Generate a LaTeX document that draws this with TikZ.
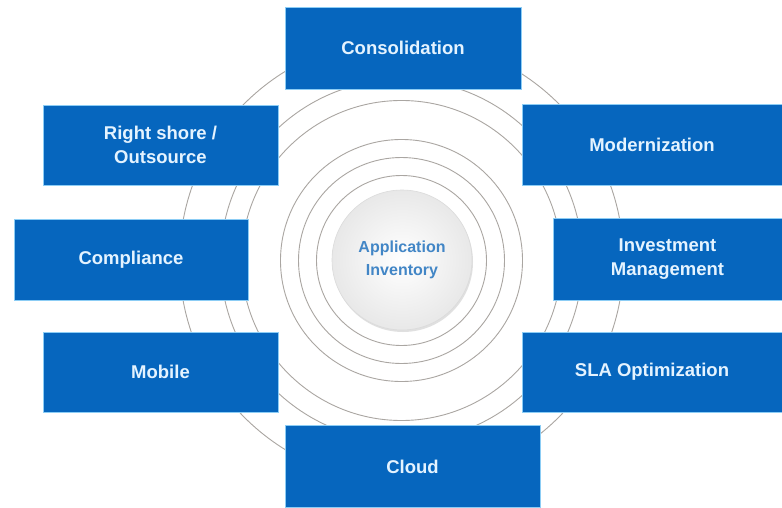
\documentclass[tikz,border=0pt]{standalone}
\usepackage{fontspec}
\setmainfont{Liberation Sans}
\usetikzlibrary{shadows}
\definecolor{boxblue}{RGB}{6,102,190}
\definecolor{boxedge}{RGB}{140,205,245}
\definecolor{boxtext}{RGB}{228,243,255}
\definecolor{ringgray}{RGB}{170,166,162}
\definecolor{hubtext}{RGB}{66,134,198}
\begin{document}
\begin{tikzpicture}[x=1pt,y=-1pt,
  topic/.style={draw=boxedge, line width=0.6pt, fill=boxblue, text=boxtext,
    font=\fontsize{18.5}{24}\selectfont\bfseries, align=center, inner sep=0pt},
  ring/.style={draw=ringgray, line width=0.9pt},
  hubstyle/.style={circle, minimum size=140pt, inner sep=0pt,
    draw=black!14, line width=0.6pt,
    shading=radial, inner color=white, outer color=black!9,
    drop shadow={shadow xshift=1pt, shadow yshift=-2pt, opacity=0.22, fill=black!55},
    text=hubtext, font=\fontsize{16}{23}\selectfont\bfseries, align=center}]
\useasboundingbox (0,0) rectangle (782,508);
\fill[white] (0,0) rectangle (782,508);
% concentric rings
\coordinate (c) at (401.5,260.5);
\foreach \r in {85,103,121,160,181,222}
  \draw[ring] (c) circle[radius=\r];
% hub
\node[hubstyle] (hub) at (402,260) {Application\\Inventory};
% topic boxes
\node[topic, minimum width=236pt, minimum height=82pt] (cons) at (403,48) {Consolidation};
\node[topic, minimum width=235pt, minimum height=80pt] (shore) at (160.5,145) {Right shore /\\Outsource};
\node[topic, minimum width=234pt, minimum height=81pt] (compl) at (131,259.5) {Compliance};
\node[topic, minimum width=235pt, minimum height=80pt] (mobile) at (160.5,372) {Mobile};
\node[topic, minimum width=255pt, minimum height=82pt] (cloud) at (412.5,466.5) {Cloud};
\node[topic, minimum width=260pt, minimum height=81pt] (modern) at (652,144.5) {Modernization};
\node[topic, minimum width=229pt, minimum height=82pt] (invest) at (667.5,259) {Investment\\Management};
\node[topic, minimum width=260pt, minimum height=80pt] (sla) at (652,372) {SLA Optimization};
\end{tikzpicture}
\end{document}
